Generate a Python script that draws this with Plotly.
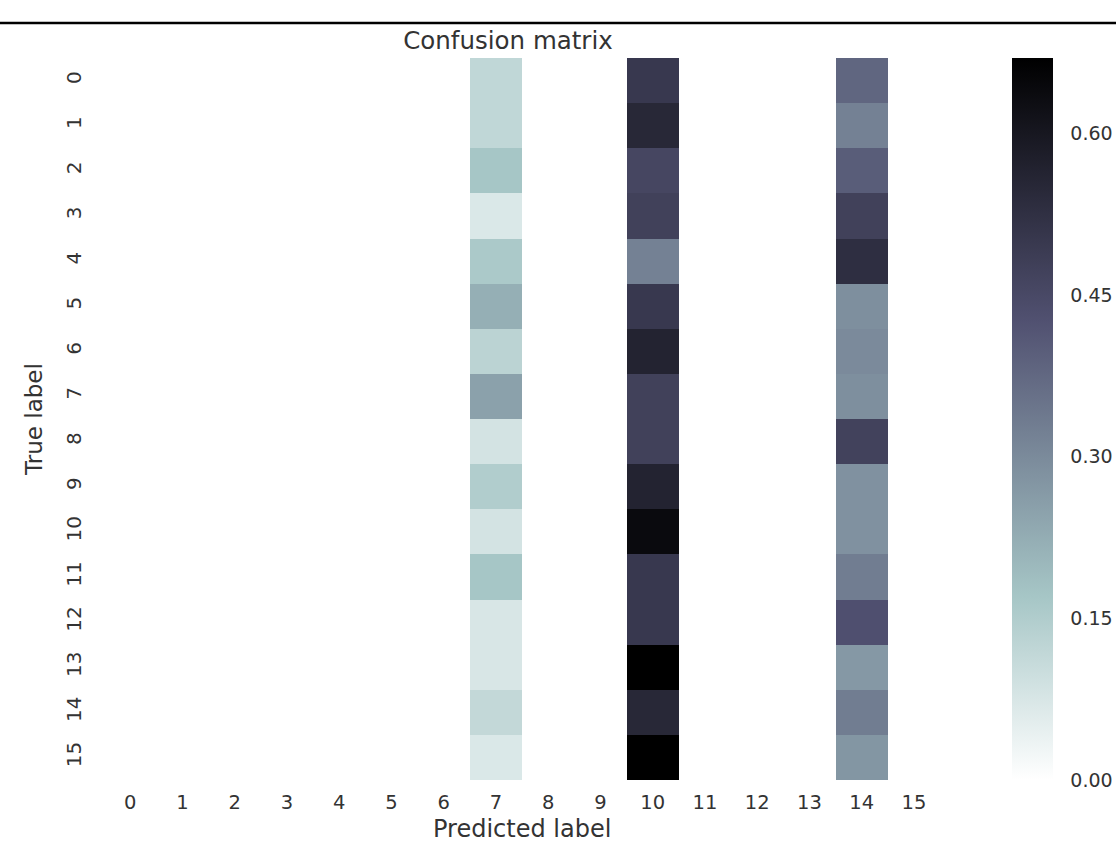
import plotly.graph_objects as go

labels = [str(i) for i in range(16)]

# Non-zero columns of the (row-normalised) confusion matrix
col7_values = [0.12, 0.12, 0.17, 0.07, 0.16, 0.22, 0.13, 0.25,
               0.085, 0.15, 0.085, 0.17, 0.075, 0.075, 0.115, 0.07]
col10_values = [0.50, 0.55, 0.46, 0.475, 0.32, 0.50, 0.565, 0.475,
                0.475, 0.565, 0.64, 0.50, 0.50, 0.67, 0.55, 0.67]
col14_values = [0.38, 0.32, 0.40, 0.475, 0.53, 0.29, 0.30, 0.29,
                0.47, 0.285, 0.285, 0.33, 0.43, 0.27, 0.33, 0.275]

nonzero_cols = {7: col7_values, 10: col10_values, 14: col14_values}

z = [[0.0] * 16 for _ in range(16)]
for c, vals in nonzero_cols.items():
    for r, v in enumerate(vals):
        z[r][c] = v

# matplotlib "bone" reversed
bone_r = [
    [0.0, "rgb(255,255,255)"],
    [0.253968, "rgb(166,198,198)"],
    [0.634921, "rgb(81,81,113)"],
    [1.0, "rgb(0,0,0)"],
]

text_color = "#333333"
font_family = "DejaVu Sans"

L, R, T, B = 104, 940, 58, 780
W, H = 1116, 842

fig = go.Figure(
    go.Heatmap(
        z=z,
        x=labels,
        y=labels,
        colorscale=bone_r,
        zmin=0,
        zmax=max(max(v) for v in nonzero_cols.values()),
        colorbar=dict(
            x=(1012 - L) / (R - L),
            xanchor="left",
            xpad=0,
            thickness=41,
            thicknessmode="pixels",
            len=1.0,
            y=0.5,
            yanchor="middle",
            ypad=0,
            outlinewidth=0,
            tickvals=[0.0, 0.15, 0.30, 0.45, 0.60],
            ticktext=["0.00", "0.15", "0.30", "0.45", "0.60"],
            ticks="outside",
            ticklen=14,
            tickcolor="rgba(0,0,0,0)",
            tickfont=dict(size=19, color=text_color, family=font_family),
        ),
        hoverongaps=False,
    )
)

fig.update_layout(
    width=W,
    height=H,
    margin=dict(l=L, r=W - R, t=T, b=H - B, autoexpand=False),
    paper_bgcolor="white",
    plot_bgcolor="white",
    font=dict(family=font_family, color=text_color, size=20),
    title=dict(
        text="Confusion matrix",
        x=(508 - L) / (R - L),
        xref="paper",
        xanchor="center",
        y=1 - 40 / H,
        yref="container",
        yanchor="middle",
        font=dict(size=24.5, color=text_color, family=font_family),
    ),
    xaxis=dict(
        type="category",
        showgrid=False,
        zeroline=False,
        showline=False,
        ticks="outside",
        ticklen=5,
        tickcolor="rgba(0,0,0,0)",
        tickfont=dict(size=19.5),
    ),
    yaxis=dict(
        type="category",
        autorange="reversed",
        showgrid=False,
        zeroline=False,
        showline=False,
        ticks="outside",
        ticklen=14,
        tickcolor="rgba(0,0,0,0)",
        tickangle=-90,
        tickfont=dict(size=20),
        title=dict(text="True label", standoff=12, font=dict(size=23)),
    ),
    annotations=[
        dict(
            text="Predicted label",
            xref="paper",
            yref="paper",
            x=0.5,
            y=-(829 - B) / (B - T),
            xanchor="center",
            yanchor="middle",
            showarrow=False,
            font=dict(size=24, color=text_color, family=font_family),
        )
    ],
    shapes=[
        dict(
            type="line",
            xref="paper",
            yref="paper",
            x0=-0.3,
            x1=1.5,
            y0=1 + (T - 23) / (B - T),
            y1=1 + (T - 23) / (B - T),
            line=dict(color="black", width=2.5),
        )
    ],
)

fig.write_html(
    "out.html",
    config={"displayModeBar": False},
    post_script="document.body.style.margin='0';document.body.style.overflow='hidden';",
)
